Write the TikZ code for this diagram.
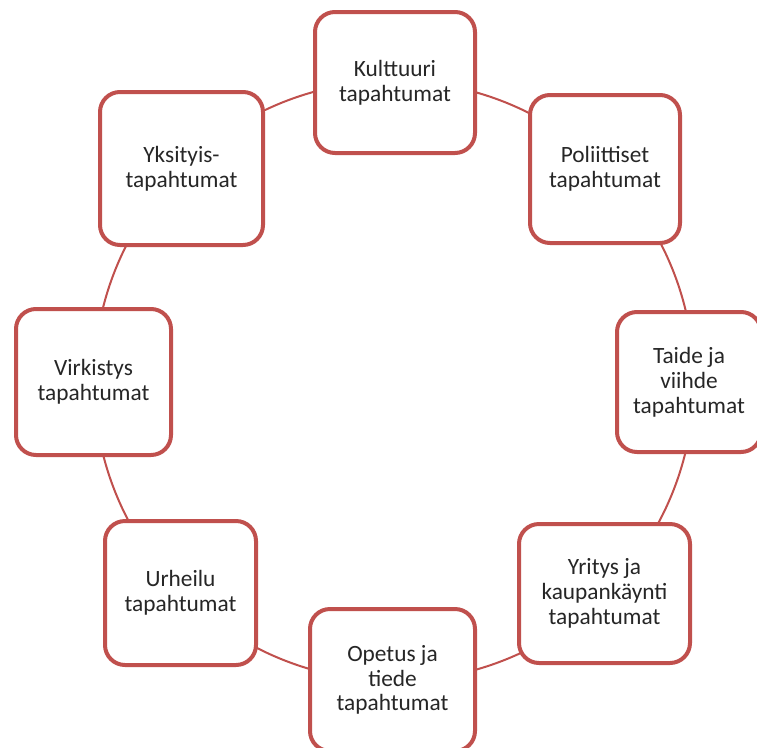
\documentclass[tikz,border=0pt]{standalone}
\usepackage{fontspec}
\setmainfont{Carlito}
\definecolor{accred}{HTML}{C0504D}
\definecolor{txt}{HTML}{262626}
\tikzset{
  evbox/.style={draw=accred, line width=3pt, rounded corners=15pt, fill=white,
    align=center, text=txt, font=\fontsize{17.5pt}{18.6pt}\selectfont, inner sep=0pt},
  ring/.style={circle, draw=accred, line width=1.5pt, inner sep=0pt}
}
\begin{document}
\begin{tikzpicture}[x=0.75pt,y=-0.75pt]
\useasboundingbox (0,0) rectangle (757,747);
\clip (0,0) rectangle (757,747);
\node[ring, minimum size=450pt] (ring) at (394,381) {};
\node[evbox, minimum width=120pt, minimum height=105.75pt] (kult) at (395,82.5) {Kulttuuri\\tapahtumat};
\node[evbox, minimum width=112.5pt, minimum height=111pt] (poli) at (605,169) {Poliittiset\\tapahtumat};
\node[evbox, minimum width=108pt, minimum height=105pt] (taide) at (689,382) {Taide ja\\viihde\\tapahtumat};
\node[evbox, minimum width=128.25pt, minimum height=104.25pt] (yritys) at (604.5,593.5) {Yritys ja\\kaupankäynti\\tapahtumat};
\node[evbox, minimum width=123.75pt, minimum height=106.5pt] (opetus) at (392.5,680) {Opetus ja\\tiede\\tapahtumat};
\node[evbox, minimum width=113.25pt, minimum height=108pt] (urheilu) at (180.5,593) {Urheilu\\tapahtumat};
\node[evbox, minimum width=116.25pt, minimum height=109.5pt] (virk) at (93.5,382) {Virkistys\\tapahtumat};
\node[evbox, minimum width=122.25pt, minimum height=114.75pt] (yks) at (181.5,168.5) {Yksityis-\\tapahtumat};
\end{tikzpicture}
\end{document}
